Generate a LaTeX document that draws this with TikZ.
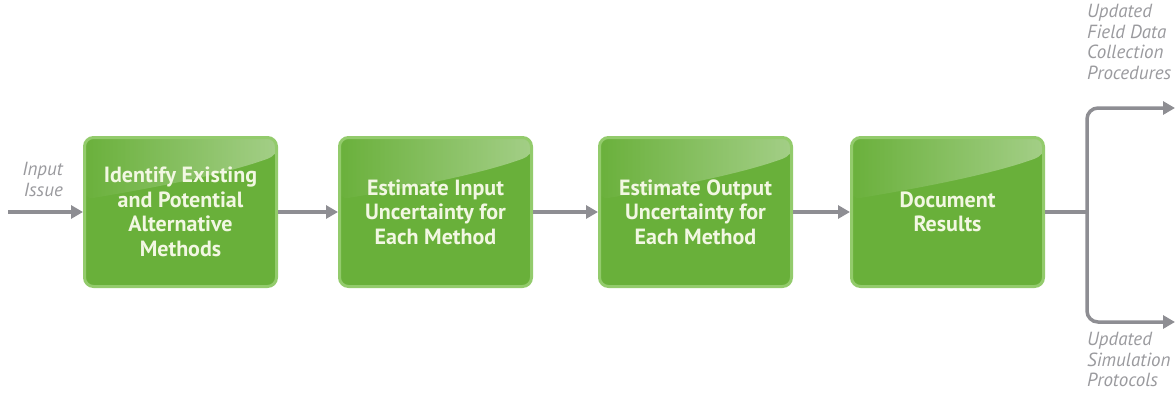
\documentclass[tikz,border=0pt]{standalone}
\usepackage{fontspec}
\setmainfont{PT Sans}
\usetikzlibrary{arrows.meta,fadings}
\definecolor{boxgreen}{HTML}{69B03A}
\definecolor{boxedge}{HTML}{93CB6C}
\definecolor{boxtext}{HTML}{F2F7E2}
\definecolor{linegray}{HTML}{8E8E93}
\definecolor{labelgray}{HTML}{9A9A9E}
\tikzset{
  stepbox/.style={draw=boxedge, line width=3pt, fill=boxgreen, rounded corners=9pt,
    minimum width=192pt, minimum height=149pt, align=center, text=boxtext,
    font=\fontsize{22}{24.5}\selectfont\bfseries,
    path picture={
      \fill[white, fill opacity=0.4, path fading=west]
        ([xshift=-5pt]path picture bounding box.north west) --
        ([xshift=5pt]path picture bounding box.north east) --
        ([yshift=-18pt]path picture bounding box.north east) .. controls
        ([xshift=-60pt,yshift=-40pt]path picture bounding box.north east) and
        ([xshift=40pt,yshift=-55pt]path picture bounding box.north west) ..
        ([yshift=-62pt]path picture bounding box.north west) -- cycle;
    }},
  flow/.style={draw=linegray, line width=3.5pt, -{Triangle[length=12pt,width=13pt]}},
  plain/.style={draw=linegray, line width=3.5pt},
  lbl/.style={text=labelgray, font=\fontsize{19}{20.5}\selectfont\itshape, inner sep=0pt}
}
\begin{document}
\begin{tikzpicture}[x=1pt,y=-1pt]
\useasboundingbox (0,0) rectangle (1175,394);
\node[stepbox] (b1) at (180.5,212) {Identify Existing\\and Potential\\Alternative\\Methods};
\node[stepbox] (b2) at (435.5,212) {Estimate Input\\Uncertainty for\\Each Method};
\node[stepbox] (b3) at (695.5,212) {Estimate Output\\Uncertainty for\\Each Method};
\node[stepbox] (b4) at (947.5,212) {Document\\Results};
\coordinate (in) at (8,212);
\coordinate (j) at (1087,212);
\coordinate (t) at (1175,108);
\coordinate (b) at (1175,322);
\draw[flow] (in) -- (b1.west);
\draw[flow] (b1.east) -- (b2.west);
\draw[flow] (b2.east) -- (b3.west);
\draw[flow] (b3.east) -- (b4.west);
\draw[plain] (b4.east) -- (j);
\draw[flow, rounded corners=11pt] (j) |- (t);
\draw[flow, rounded corners=11pt] (j) |- (b);
\node[lbl, align=right, anchor=north east] (il) at (63,162) {Input\\Issue};
\node[lbl, align=left, anchor=north west] (tl) at (1087,4) {Updated\\Field Data\\Collection\\Procedures};
\node[lbl, align=left, anchor=north west] (bl) at (1087,332) {Updated\\Simulation\\Protocols};
\end{tikzpicture}
\end{document}
